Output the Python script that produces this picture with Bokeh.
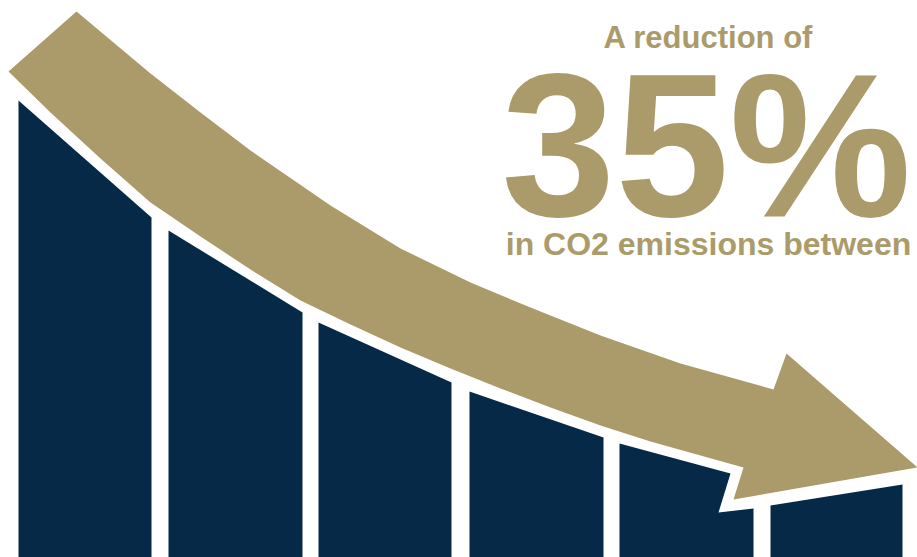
from bokeh.plotting import figure
from bokeh.models import Range1d
from bokeh.core.properties import value
from bokeh.embed import file_html
from bokeh.resources import INLINE

W, H = 917, 557
NAVY = "#062947"
GOLD = "#AB9B6A"

# Bars: left/right edges and top outline (height above baseline)
bar_left = [18, 168, 318, 469, 619, 770]
bar_right = [151, 302, 451, 603, 753, 902]
bar_top_x = [[18, 151], [168, 302], [318, 451], [469, 603],
             [619, 730, 718, 753], [770, 902]]
bar_top_y = [[457, 340], [327, 245], [235, 175], [166, 120],
             [114, 84, 45, 49], [52, 73]]

# Arrow outline: upper edge, head, lower edge
arrow_upper_x = [76, 150, 200, 250, 330, 400, 470, 530, 600, 680, 773]
arrow_upper_y = [546, 484, 445, 407, 352, 309, 275, 250, 222, 194, 168]
arrow_head_x = [786, 917, 733, 743]
arrow_head_y = [204, 90, 58, 90]
arrow_lower_x = [700, 650, 600, 550, 500, 450, 400, 350, 300, 250, 200, 150, 100, 50, 8]
arrow_lower_y = [102, 116, 132, 150, 169, 189, 210, 233, 257, 288, 321, 355, 399, 445, 486]

headline = "A reduction of"
big_value = "35%"
subline = "in CO2 emissions between"

p = figure(width=W, height=H, x_range=Range1d(0, W), y_range=Range1d(0, H),
           output_backend="svg", toolbar_location=None, min_border=0)
p.axis.visible = False
p.grid.visible = False
p.outline_line_color = None
p.background_fill_color = "white"
p.border_fill_color = "white"

xs, ys = [], []
for l, r, tx, ty in zip(bar_left, bar_right, bar_top_x, bar_top_y):
    xs.append(list(tx) + [r, l])
    ys.append(list(ty) + [0, 0])
p.patches(xs, ys, fill_color=NAVY, line_color=None)

ax = arrow_upper_x + arrow_head_x + arrow_lower_x
ay = arrow_upper_y + arrow_head_y + arrow_lower_y
p.patch(ax, ay, fill_color=GOLD, line_color=None)

font = value("Liberation Sans")
cx = 708
p.text(x=[cx], y=[520], text=[headline], text_font=font, text_font_style="bold",
       text_font_size="31px", text_color=GOLD, text_align="center",
       text_baseline="alphabetic")
p.text(x=[706], y=[413], text=[big_value], text_font=font, text_font_style="bold",
       text_font_size="205px", text_color=GOLD, text_align="center",
       text_baseline="alphabetic")
p.text(x=[cx], y=[314], text=[subline], text_font=font, text_font_style="bold",
       text_font_size="32px", text_color=GOLD, text_align="center",
       text_baseline="alphabetic")

open("out.html", "w").write(file_html(p, INLINE))
